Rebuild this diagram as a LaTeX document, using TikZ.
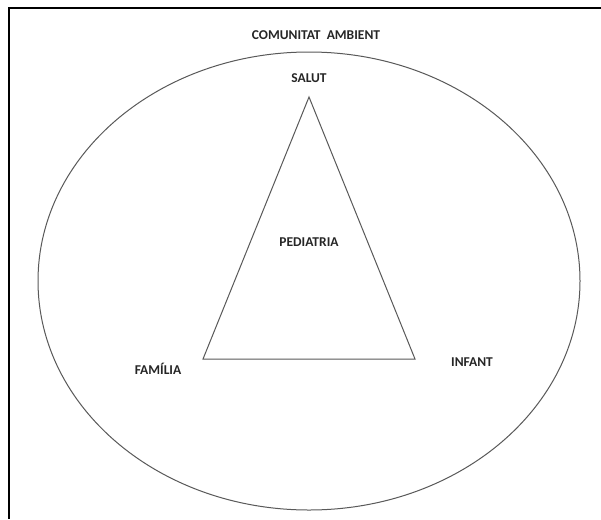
\documentclass[tikz,border=0pt]{standalone}
\usepackage{fontspec}
\setmainfont{Carlito}
\begin{document}
\begin{tikzpicture}[x=1pt,y=-1pt,
  lbl/.style={font=\fontsize{13.5}{15}\selectfont\bfseries, text=black!85, inner sep=0pt},
  shapeline/.style={draw=black!65, line width=1pt},
  framel/.style={draw=black, line width=2pt}]
\useasboundingbox (0,0) rectangle (601,519);
\fill[white] (0,0) rectangle (601,519);
% frame (top and left only)
\coordinate (ftr) at (601,8);
\coordinate (ftl) at (9,8);
\coordinate (fbl) at (9,519);
\draw[framel] (ftr) -- (ftl) -- (fbl);
% ellipse
\coordinate (ec) at (309,281);
\draw[shapeline] (ec) ellipse [x radius=271, y radius=229];
% triangle
\coordinate (apex) at (309,97);
\coordinate (bl) at (203,359);
\coordinate (br) at (415,359);
\draw[shapeline, line join=miter] (apex) -- (bl) -- (br) -- cycle;
% labels
\node[lbl] (com) at (316,35) {COMUNITAT\ \ AMBIENT};
\node[lbl] (sal) at (309,78) {SALUT};
\node[lbl] (ped) at (309,242) {PEDIATRIA};
\node[lbl] (fam) at (158,369) {FAMÍLIA};
\node[lbl] (inf) at (472,362) {INFANT};
\end{tikzpicture}
\end{document}
